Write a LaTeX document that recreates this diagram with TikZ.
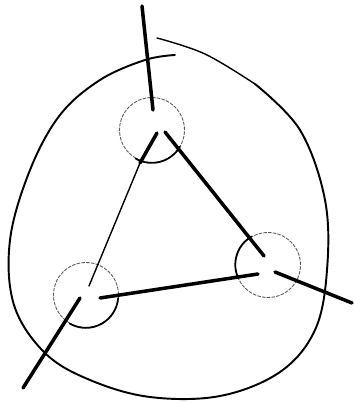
\documentclass[tikz,border=0pt]{standalone}
\usetikzlibrary{calc}
\begin{document}
\begin{tikzpicture}[x=0.02cm, y=-0.02cm,
  vertex/.style={draw=black!65, circle, line width=0.5pt, dash pattern=on 2pt off 0.7pt, minimum size=1.3cm, inner sep=0pt},
  rim/.style={line width=1pt, line cap=round},
  edge/.style={line width=2pt, line cap=round},
  hull/.style={line width=1.1pt, line cap=round},
  thinhull/.style={line width=0.8pt, line cap=round}
]
  \useasboundingbox (0,0) rectangle (354,402);

  % vertex circles
  \node[vertex] (vtop) at (152,130) {};
  \node[vertex] (vright) at (268,265) {};
  \node[vertex] (vleft) at (86,295) {};
  \draw[rim] (vtop.240) arc[start angle=240, end angle=330, radius=0.65cm];
  \draw[rim] (vright.120) arc[start angle=120, end angle=205, radius=0.65cm];
  \draw[rim] (vleft.240) arc[start angle=240, end angle=355, radius=0.65cm];

  % triangle ends and leg ends
  \coordinate (topL) at (157,133);
  \coordinate (topR) at (165,132);
  \coordinate (topK) at (140,163);
  \coordinate (rightT) at (264,256);
  \coordinate (rightB) at (258,274);
  \coordinate (leftT) at (89,286);
  \coordinate (leftB) at (100,298);
  \coordinate (legtopA) at (142,6);
  \coordinate (legtopB) at (153,110);
  \coordinate (legrightA) at (275,272);
  \coordinate (legrightB) at (352,303);
  \coordinate (legleftA) at (80,298);
  \coordinate (legleftB) at (23,388);

  % outer loop
  \draw[hull] plot[smooth, tension=0.6] coordinates {(175,55) (145,60) (100,80) (60,115) (30,170)
    (10,240) (14,305) (45,353) (90,380) (150,397) (220,396) (280,372) (315,330) (327,270)
    (325,200) (300,130) (255,84)};
  \draw[thinhull] plot[smooth, tension=0.6] coordinates {(255,84) (205,54) (157,38)};

  % triangle
  \draw[edge] (topR) -- (rightT);
  \draw[edge] (leftB) -- (rightB);
  \draw[edge] (topL) -- (topK);
  \draw[line width=0.8pt, line cap=round] (topK) -- (leftT);

  % legs
  \draw[edge] (legtopA) -- (legtopB);
  \draw[edge] (legrightA) -- (legrightB);
  \draw[edge] (legleftA) -- (legleftB);
\end{tikzpicture}
\end{document}
